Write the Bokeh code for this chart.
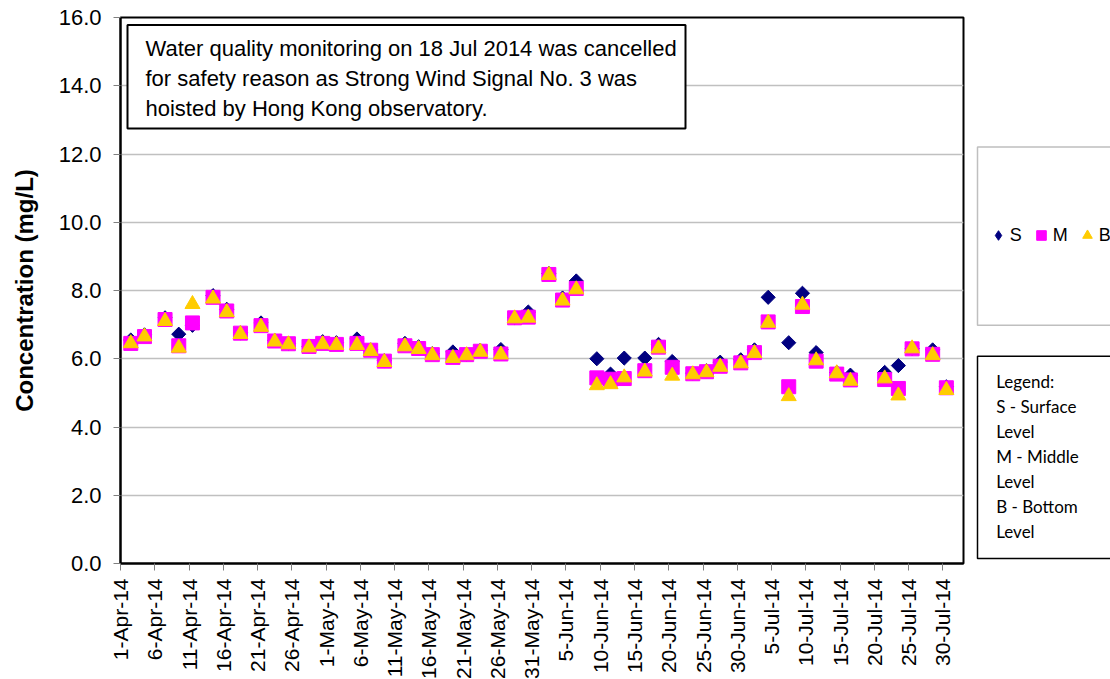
import math
import pandas as pd
from bokeh.plotting import figure
from bokeh.layouts import row
from bokeh.models import (Range1d, FixedTicker, NumeralTickFormatter, BoxAnnotation,
                          Label, Legend, LegendItem, ColumnDataSource)
from bokeh.embed import file_html
from bokeh.resources import INLINE

# ---------------- data ----------------
dates = [
    "2014-04-02", "2014-04-04", "2014-04-07", "2014-04-09", "2014-04-11", "2014-04-14",
    "2014-04-16", "2014-04-18", "2014-04-21", "2014-04-23", "2014-04-25", "2014-04-28",
    "2014-04-30", "2014-05-02", "2014-05-05", "2014-05-07", "2014-05-09", "2014-05-12",
    "2014-05-14", "2014-05-16", "2014-05-19", "2014-05-21", "2014-05-23", "2014-05-26",
    "2014-05-28", "2014-05-30", "2014-06-02", "2014-06-04", "2014-06-06", "2014-06-09",
    "2014-06-11", "2014-06-13", "2014-06-16", "2014-06-18", "2014-06-20", "2014-06-23",
    "2014-06-25", "2014-06-27", "2014-06-30", "2014-07-02", "2014-07-04", "2014-07-07",
    "2014-07-09", "2014-07-11", "2014-07-14", "2014-07-16", "2014-07-21", "2014-07-23",
    "2014-07-25", "2014-07-28", "2014-07-30",
]
surface = [6.55, 6.70, 7.20, 6.72, 6.98, 7.85, 7.45, 6.76, 7.05, 6.54, 6.45, 6.36,
           6.50, 6.47, 6.58, 6.26, 5.95, 6.45, 6.35, 6.15, 6.20, 6.13, 6.25, 6.27,
           7.21, 7.37, 8.50, 7.78, 8.28, 6.00, 5.55, 6.02, 6.02, 6.42, 5.92, 5.58,
           5.65, 5.90, 5.97, 6.26, 7.80, 6.47, 7.92, 6.18, 5.60, 5.52, 5.60, 5.80,
           6.30, 6.26, 5.18]
middle = [6.45, 6.65, 7.15, 6.38, 7.05, 7.80, 7.40, 6.75, 6.97, 6.52, 6.44, 6.36,
          6.45, 6.42, 6.45, 6.25, 5.93, 6.38, 6.30, 6.12, 6.04, 6.12, 6.22, 6.14,
          7.20, 7.22, 8.47, 7.72, 8.06, 5.44, 5.40, 5.42, 5.65, 6.34, 5.75, 5.56,
          5.62, 5.78, 5.88, 6.18, 7.08, 5.18, 7.53, 5.93, 5.55, 5.38, 5.39, 5.13,
          6.29, 6.13, 5.15]
bottom = [6.45, 6.65, 7.10, 6.32, 7.60, 7.76, 7.36, 6.72, 6.93, 6.50, 6.42, 6.33,
          6.42, 6.40, 6.40, 6.22, 5.90, 6.36, 6.28, 6.10, 6.02, 6.10, 6.20, 6.12,
          7.18, 7.20, 8.45, 7.70, 8.03, 5.22, 5.25, 5.45, 5.62, 6.30, 5.50, 5.54,
          5.60, 5.76, 5.86, 6.16, 7.05, 4.90, 7.58, 5.95, 5.57, 5.35, 5.42, 4.92,
          6.30, 6.10, 5.08]

tick_labels = ["1-Apr-14", "6-Apr-14", "11-Apr-14", "16-Apr-14", "21-Apr-14", "26-Apr-14",
               "1-May-14", "6-May-14", "11-May-14", "16-May-14", "21-May-14", "26-May-14",
               "31-May-14", "5-Jun-14", "10-Jun-14", "15-Jun-14", "20-Jun-14", "25-Jun-14",
               "30-Jun-14", "5-Jul-14", "10-Jul-14", "15-Jul-14", "20-Jul-14", "25-Jul-14",
               "30-Jul-14"]
y_ticks = [0, 2, 4, 6, 8, 10, 12, 14, 16]

series_names = ["S", "M", "B"]
note_lines = ["Water quality monitoring on 18 Jul 2014 was cancelled",
              "for safety reason as Strong Wind Signal No. 3 was",
              "hoisted by Hong Kong observatory."]
key_lines = ["Legend:", "S - Surface", "Level", "M - Middle", "Level", "B - Bottom", "Level"]

# ---------------- build ----------------
start = pd.Timestamp("2014-04-01")
axis_days = 123  # day slots 1-Apr .. 1-Aug
xs = [(pd.Timestamp(d) - start).days + 0.5 for d in dates]
tick_pos = [(pd.to_datetime(t, format="%d-%b-%y") - start).days for t in tick_labels]

src = ColumnDataSource(dict(x=xs, s=surface, m=middle, b=bottom))

p = figure(frame_width=843, frame_height=546,
           x_range=Range1d(0, axis_days), y_range=Range1d(0, 16),
           output_backend="svg", toolbar_location=None,
           min_border_left=120, min_border_top=17, min_border_right=7, min_border_bottom=116,
           background_fill_color="white", border_fill_color="white")

p.outline_line_color = "black"
p.outline_line_width = 2
p.xgrid.visible = False
p.ygrid.grid_line_color = "#c0c0c0"
p.ygrid.grid_line_width = 1.5

p.yaxis.ticker = FixedTicker(ticks=y_ticks)
p.yaxis.formatter = NumeralTickFormatter(format="0.0")
p.xaxis.ticker = FixedTicker(ticks=tick_pos)
p.xaxis.major_label_overrides = {tp: lab for tp, lab in zip(tick_pos, tick_labels)}
p.xaxis.major_label_orientation = math.pi / 2

for ax in (p.xaxis[0], p.yaxis[0]):
    ax.axis_line_color = "black"
    ax.axis_line_width = 2
    ax.major_tick_line_color = "#808080"
    ax.major_tick_line_width = 1
    ax.major_tick_out = 7
    ax.major_tick_in = 0
    ax.minor_tick_line_color = None
    ax.major_label_text_font = "Liberation Sans"
    ax.major_label_text_color = "black"
p.xaxis.major_label_text_font_size = "21px"
p.yaxis.major_label_text_font_size = "22px"
p.yaxis.major_label_standoff = 12
p.xaxis.major_label_standoff = 8
p.yaxis.axis_label = "Concentration (mg/L)"
p.yaxis.axis_label_text_font = "Liberation Sans"
p.yaxis.axis_label_text_font_size = "24px"
p.yaxis.axis_label_text_font_style = "bold"
p.yaxis.axis_label_text_color = "black"
p.yaxis.axis_label_standoff = 18

s_style = dict(marker="square", angle=math.pi / 4, size=10, fill_color="#000080", line_color="#000080")
m_style = dict(marker="square", size=14, fill_color="#FF00FF", line_color="#FF00FF")
b_style = dict(marker="triangle", size=15, fill_color="#FFCC00", line_color="#FFCC00")

p.scatter("x", "s", source=src, **s_style)
p.scatter("x", "m", source=src, **m_style)
p.scatter("x", "b", source=src, **b_style)

# note box inside the plot area
p.add_layout(BoxAnnotation(left=7, right=565, bottom=435, top=538.5,
                           left_units="screen", right_units="screen",
                           bottom_units="screen", top_units="screen",
                           fill_color="white", fill_alpha=1,
                           line_color="black", line_alpha=1, line_width=2))
for i, line in enumerate(note_lines):
    p.add_layout(Label(x=25, y=515 - 30 * i, x_units="screen", y_units="screen", text=line,
                       text_font="Liberation Sans", text_font_size="22px",
                       text_color="black", text_baseline="alphabetic"))

# ---------------- right-hand side panel (legend + key) ----------------
# its frame is aligned with the main frame (image rows 17..563)
p2 = figure(width=140, height=679, x_range=Range1d(970, 1110), y_range=Range1d(563, 17),
            x_axis_location=None, y_axis_location=None, toolbar_location=None,
            output_backend="svg", min_border=0, outline_line_color=None,
            background_fill_color="white", border_fill_color="white")
p2.grid.visible = False

p2.quad(left=[977], right=[1130], top=[147], bottom=[326],
        fill_color="white", line_color="#bfbfbf", line_width=1.5)
p2.quad(left=[977], right=[1130], top=[357], bottom=[560],
        fill_color="white", line_color="black", line_width=1.5)

legend_renderers = [
    p2.scatter("x", "s", source=src, visible=False, marker="diamond",
               fill_color="#000080", line_color="#000080"),
    p2.scatter("x", "m", source=src, visible=False, **m_style),
    p2.scatter("x", "b", source=src, visible=False, **b_style),
]
legend = Legend(items=[LegendItem(label=n, renderers=[r]) for n, r in zip(series_names, legend_renderers)],
                orientation="horizontal", location=(15.7, 311.7),
                glyph_width=24, glyph_height=28, label_standoff=0, spacing=7,
                label_width=12, label_height=28,
                padding=0, margin=0, background_fill_alpha=0, border_line_alpha=0,
                label_text_font="Liberation Sans", label_text_font_size="18px",
                label_text_color="black")
p2.add_layout(legend)

for i, line in enumerate(key_lines):
    p2.add_layout(Label(x=995.7, y=382.5 + 25 * i, text=line,
                        text_font="Lato", text_font_size="17px",
                        text_color="black", text_baseline="alphabetic"))

layout = row(p, p2, spacing=0)
open("out.html", "w").write(file_html(layout, INLINE))
